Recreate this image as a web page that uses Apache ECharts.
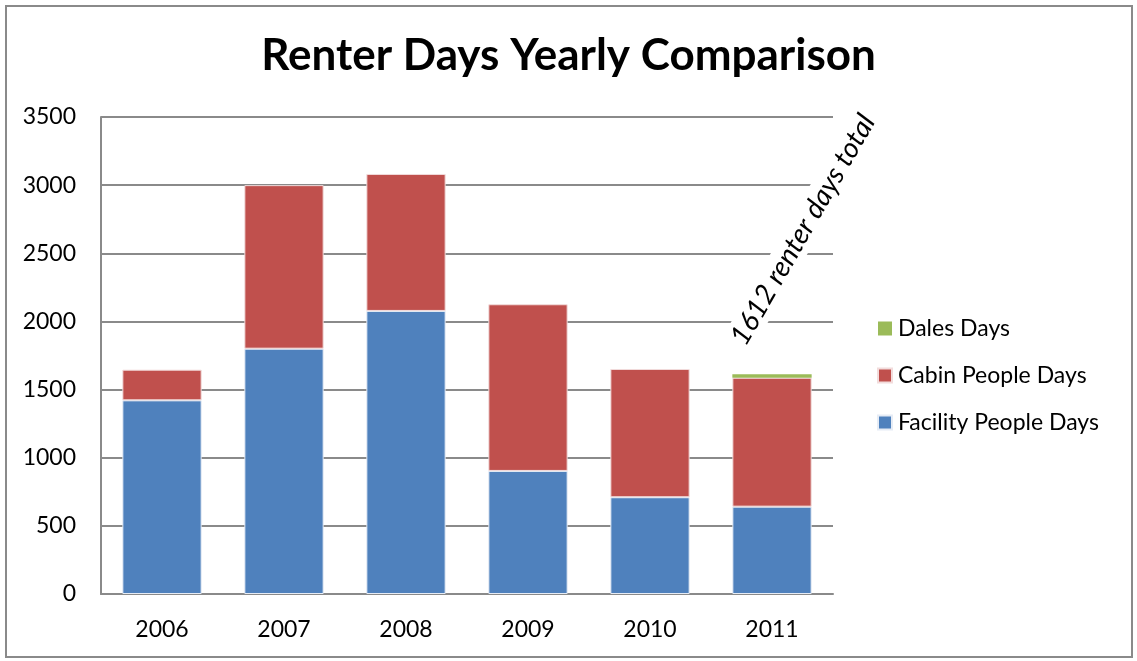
<!DOCTYPE html>
<html>
<head>
<meta charset="utf-8">
<script src="https://cdn.jsdelivr.net/npm/echarts@6/dist/echarts.min.js"></script>
<style>
  html, body { margin: 0; padding: 0; background: #fff; }
  #frame { position: absolute; left: 5px; top: 5px; width: 1124px; height: 649px; border: 2px solid #8a8a8a; }
  #chart { position: absolute; left: 0; top: 0; width: 1137px; height: 661px; }
</style>
</head>
<body>
<div id="frame"></div>
<div id="chart"></div>
<script>
const years = ['2006', '2007', '2008', '2009', '2010', '2011'];
const facilityDays = [1421, 1800, 2077, 903, 710, 641];
const cabinDays = [225, 1200, 1005, 1223, 941, 946];
const dalesDays = [0, 0, 0, 0, 0, 25];
const yTicks = [0, 500, 1000, 1500, 2000, 2500, 3000, 3500];
const noteText = '1612 renter days total';

const font = 'Lato, "Open Sans", sans-serif';
const chart = echarts.init(document.getElementById('chart'), null, { renderer: 'canvas' });

// note label hangs off the last Dales bar
const dalesData = dalesDays.map((v, i) => {
  if (i !== years.length - 1) return v;
  return {
    value: v,
    label: {
      show: true,
      formatter: noteText,
      position: 'top',
      rotate: 60,
      align: 'left',
      verticalAlign: 'middle',
      offset: [2, -43],
      fontFamily: font,
      fontStyle: 'italic',
      fontSize: 28,
      color: '#000',
      backgroundColor: '#fff',
      padding: [2, 4]
    }
  };
});

chart.setOption({
  animation: false,
  title: {
    text: 'Renter Days Yearly Comparison',
    left: 'center',
    top: 29,
    textStyle: { fontFamily: font, fontWeight: 'bold', fontSize: 44, color: '#000' }
  },
  legend: {
    orient: 'vertical',
    left: 872,
    top: 312,
    itemWidth: 14,
    itemHeight: 14,
    itemGap: 24,
    icon: 'rect',
    data: ['Dales Days', 'Cabin People Days', 'Facility People Days'],
    textStyle: { fontFamily: font, fontSize: 23, color: '#000', padding: [0, 0, 0, 1] }
  },
  grid: { left: 101, top: 117, right: 304, bottom: 67 },
  xAxis: {
    type: 'category',
    data: years,
    axisLine: { lineStyle: { color: '#8a8a8a', width: 2 } },
    axisTick: { show: false },
    axisLabel: { fontFamily: font, fontSize: 23, color: '#000', margin: 24 }
  },
  yAxis: {
    type: 'value',
    min: yTicks[0],
    max: yTicks[yTicks.length - 1],
    interval: 500,
    axisLine: { show: true, lineStyle: { color: '#8a8a8a', width: 2 } },
    axisTick: { show: false },
    splitLine: { lineStyle: { color: '#8a8a8a', width: 2 } },
    axisLabel: { fontFamily: font, fontSize: 23, color: '#000', margin: 25, formatter: v => String(v) }
  },
  series: [
    {
      name: 'Facility People Days', type: 'bar', stack: 'total', data: facilityDays,
      barCategoryGap: '35%',
      itemStyle: { color: '#4F81BD', borderColor: '#e6ecf5', borderWidth: 1 }
    },
    {
      name: 'Cabin People Days', type: 'bar', stack: 'total', data: cabinDays,
      itemStyle: { color: '#C0504D', borderColor: '#f2dcdc', borderWidth: 1 }
    },
    {
      name: 'Dales Days', type: 'bar', stack: 'total', data: dalesData,
      itemStyle: { color: '#9BBB59' }
    }
  ]
});
</script>
</body>
</html>
